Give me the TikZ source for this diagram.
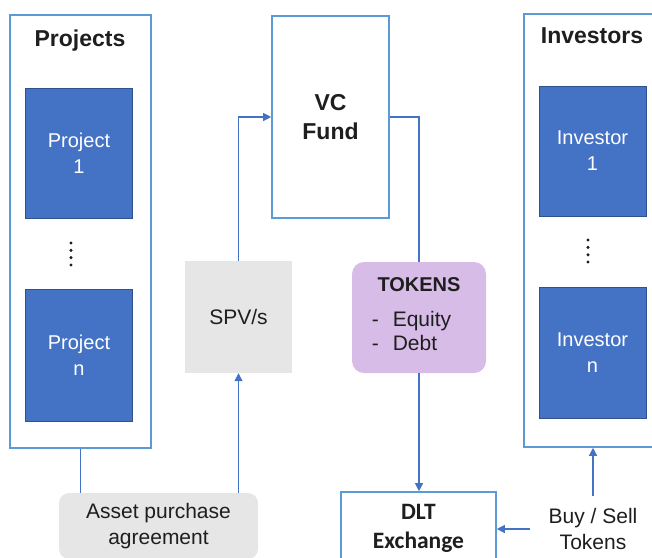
\documentclass[tikz,border=0pt]{standalone}
\usepackage{fontspec}
\setmainfont{Liberation Sans}
\newfontfamily\calibfont{Carlito}
\usetikzlibrary{arrows.meta}
\definecolor{frameblue}{RGB}{91,155,213}
\definecolor{linkblue}{RGB}{68,114,196}
\definecolor{unitblue}{RGB}{68,114,196}
\definecolor{unitedge}{RGB}{47,82,143}
\definecolor{boxgray}{RGB}{231,230,230}
\definecolor{tokpurple}{RGB}{216,188,232}
\definecolor{inkgray}{RGB}{30,30,30}

\begin{document}
\begin{tikzpicture}[x=1pt,y=-1pt,text=inkgray,
  frame/.style={draw=frameblue,line width=1.6pt,fill=white,inner sep=0pt},
  unit/.style={draw=unitedge,line width=1pt,fill=unitblue,text=white,align=center,
    minimum width=107,font=\fontsize{20}{26}\selectfont},
  head/.style={font=\bfseries\fontsize{23}{29}\selectfont,anchor=base},
  plain/.style={align=center,font=\fontsize{21}{26}\selectfont},
  link/.style={draw=linkblue,line width=1.2pt},
  arr/.style={link,-{Triangle[length=8pt,width=8pt]}}]
\useasboundingbox (0,0) rectangle (652,557);
\clip (0,0) rectangle (652,557);
\node[frame,minimum width=141,minimum height=433] (proj) at (80.5,231.5) {};
\node[head] (projt) at (80,46) {Projects};
\node[unit,minimum height=130] (p1) at (79,153) {Project\\1};
\foreach \y in {243,250.3,257.6,265} \fill[inkgray] (71,\y) circle (1.7);
\node[unit,minimum height=132] (pn) at (79,355) {Project\\n};
\node[frame,minimum width=136,minimum height=433] (invs) at (592,230.5) {};
\node[head] (invst) at (592,43) {Investors};
\node[unit,minimum height=130] (i1) at (592.5,151) {Investor\\1};
\foreach \y in {240,247.4,254.8,262} \fill[inkgray] (588,\y) circle (1.7);
\node[unit,minimum height=131] (in) at (592.5,352.5) {Investor\\n};
\node[frame,minimum width=117,minimum height=202,align=center,font=\bfseries\fontsize{23}{29}\selectfont] (vc) at (330.5,117) {VC\\Fund};
\node[plain,fill=boxgray,minimum width=107,minimum height=112] (spv) at (238.5,317) {SPV/s};
\node[plain,fill=tokpurple,rounded corners=12pt,minimum width=134,minimum height=111,font=\fontsize{21}{24}\selectfont] (tok) at (419,317.5)
  {{\bfseries\fontsize{20}{24}\selectfont TOKENS}\\[11pt]\begin{tabular}[t]{@{}l@{\hspace{14pt}}l@{\hspace{15pt}}}-&Equity\\-&Debt\end{tabular}};
\node[plain,fill=boxgray,rounded corners=10pt,minimum width=199,minimum height=66] (asset) at (158.5,526) {Asset purchase\\agreement};
\node[frame,minimum width=155,minimum height=72,align=center,font=\calibfont\bfseries\fontsize{23.5}{29}\selectfont] (dlt) at (418.5,528) {DLT\\Exchange};
\node[plain,inner xsep=18pt,inner ysep=12pt] (buy) at (593,529) {Buy / Sell\\Tokens};
\draw[link] (proj.south) -- (proj.south |- asset.north);
\draw[arr] (spv.south |- asset.north) -- (spv.south);
\draw[arr] (spv.north) |- (vc.west);
\draw[link] (vc.east) -| (tok.north);
\draw[arr] (tok.south) -- (tok.south |- dlt.north);
\draw[arr] (buy.west) -- (buy.west -| dlt.east);
\draw[arr] (buy.north) -- (buy.north |- invs.south);
\end{tikzpicture}
\end{document}
